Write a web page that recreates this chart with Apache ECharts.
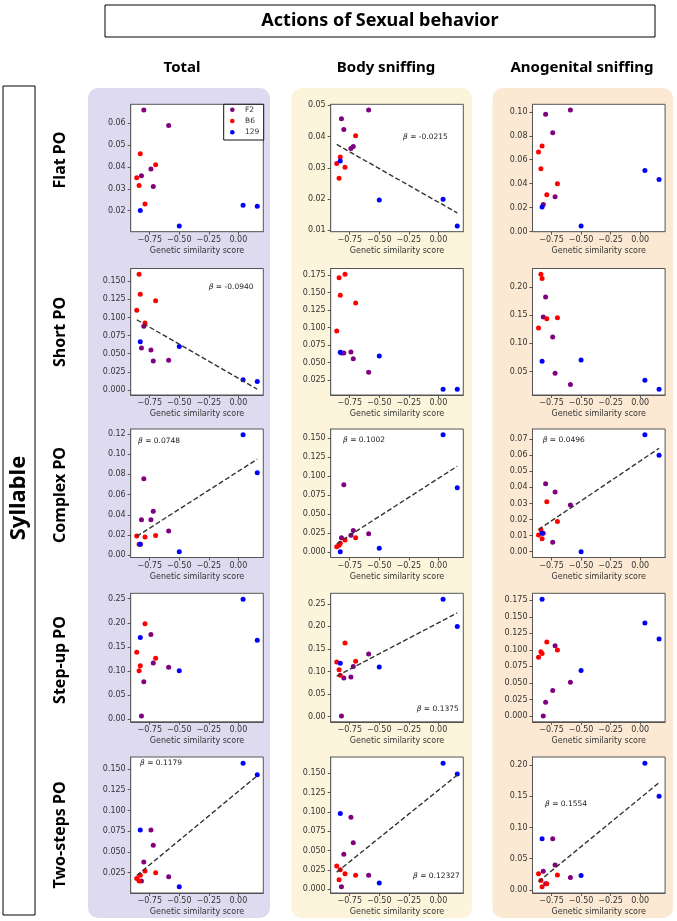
<!DOCTYPE html>
<html>
<head>
<meta charset="utf-8">
<script src="https://cdn.jsdelivr.net/npm/echarts@6/dist/echarts.min.js"></script>
<style>
html,body{margin:0;padding:0;background:#fff}
#chart{width:677px;height:921px}
</style>
</head>
<body>
<div id="chart"></div>
<script>
// mouse order: 5 x F2, 5 x B6, 4 x 129
var mouseGroup = ['F2','F2','F2','F2','F2','B6','B6','B6','B6','B6','129','129','129','129'];
var mouseX = [-0.80,-0.59,-0.82,-0.74,-0.72, -0.83,-0.86,-0.84,-0.70,-0.79, -0.83,-0.50,0.04,0.16];
var groupNames = ['F2','B6','129'];
var groupColors = ['#800080','#ff0000','#0000ff'];
var xTicks = [-0.75,-0.50,-0.25,0];

var colTitles = ['Total','Body sniffing','Anogenital sniffing'];
var rowTitles = ['Flat PO','Short PO','Complex PO','Step-up PO','Two-steps PO'];

// y values, same mouse order
var flatTotal  = [0.066,0.059,0.036,0.039,0.031, 0.046,0.035,0.0315,0.041,0.023, 0.020,0.013,0.0225,0.022];
var flatBody   = [0.0423,0.0485,0.0457,0.0362,0.0368, 0.0335,0.0314,0.0267,0.0403,0.0302, 0.0322,0.0197,0.0199,0.0114];
var flatAnog   = [0.098,0.1015,0.0225,0.0825,0.029, 0.0715,0.0665,0.0524,0.040,0.0307, 0.0205,0.0047,0.051,0.0435];
var shortTotal = [0.088,0.041,0.058,0.055,0.040, 0.132,0.110,0.1596,0.123,0.0925, 0.0666,0.060,0.014,0.0115];
var shortBody  = [0.0635,0.036,0.0635,0.065,0.0553, 0.146,0.095,0.171,0.135,0.176, 0.0647,0.0595,0.0119,0.0119];
var shortAnog  = [0.1824,0.027,0.147,0.1115,0.047, 0.2152,0.1273,0.2229,0.1455,0.1437, 0.068,0.0705,0.0342,0.0184];
var complexTotal = [0.0756,0.024,0.035,0.035,0.0434, 0.011,0.019,0.011,0.0195,0.018, 0.011,0.0036,0.119,0.0815];
var complexBody  = [0.0885,0.0239,0.0186,0.022,0.0283, 0.0115,0.007,0.0088,0.0186,0.0159, 0.0004,0.0049,0.1544,0.0845];
var complexAnog  = [0.0422,0.029,0.0115,0.0058,0.0372, 0.008,0.0104,0.0136,0.0188,0.031, 0.0115,0.000,0.0727,0.0600];
var stepTotal = [0.078,0.108,0.007,0.1757,0.1167, 0.111,0.139,0.1007,0.1264,0.198, 0.1694,0.1007,0.249,0.1639];
var stepBody  = [0.0856,0.139,0.0015,0.0878,0.111, 0.0915,0.121,0.104,0.1228,0.163, 0.1183,0.110,0.2604,0.200];
var stepAnog  = [0.0208,0.0512,0.000,0.0385,0.1063, 0.0946,0.089,0.097,0.0997,0.112, 0.1768,0.0689,0.1407,0.1164];
var twoTotal = [0.038,0.020,0.015,0.0765,0.058, 0.022,0.018,0.015,0.025,0.027, 0.0765,0.008,0.157,0.143];
var twoBody  = [0.045,0.018,0.003,0.093,0.060, 0.025,0.030,0.012,0.018,0.020, 0.098,0.008,0.163,0.149];
var twoAnog  = [0.010,0.020,0.030,0.082,0.040, 0.005,0.026,0.015,0.024,0.010, 0.082,0.023,0.203,0.150];

var panelValues = [flatTotal,flatBody,flatAnog, shortTotal,shortBody,shortAnog,
  complexTotal,complexBody,complexAnog, stepTotal,stepBody,stepAnog, twoTotal,twoBody,twoAnog];

// y tick labels per panel
var yTicks = [
  ['0.02','0.03','0.04','0.05','0.06'], ['0.01','0.02','0.03','0.04','0.05'], ['0.00','0.02','0.04','0.06','0.08','0.10'],
  ['0.000','0.025','0.050','0.075','0.100','0.125','0.150'], ['0.025','0.050','0.075','0.100','0.125','0.150','0.175'], ['0.05','0.10','0.15','0.20'],
  ['0.00','0.02','0.04','0.06','0.08','0.10','0.12'], ['0.000','0.025','0.050','0.075','0.100','0.125','0.150'], ['0.00','0.01','0.02','0.03','0.04','0.05','0.06','0.07'],
  ['0.00','0.05','0.10','0.15','0.20','0.25'], ['0.00','0.05','0.10','0.15','0.20','0.25'], ['0.000','0.025','0.050','0.075','0.100','0.125','0.150','0.175'],
  ['0.000','0.025','0.050','0.075','0.100','0.125','0.150'], ['0.000','0.025','0.050','0.075','0.100','0.125','0.150'], ['0.00','0.05','0.10','0.15','0.20']
];

// regression slope labels and intercepts ('' = no line)
var betaLabels = ['','-0.0215','', '-0.0940','','', '0.0748','0.1002','0.0496', '','0.1375','', '0.1179','0.12327','0.1554'];
var lineIntercepts = [0,0.019,0, 0.016,0,0, 0.083,0.097,0.0564, 0,0.208,0, 0.123,0.128,0.147];
var betaPos = [null,[403,137.5],null, [208.7,286.7],null,null, [138,441],[343,440],[542.7,440], null,[416.7,708.7],null, [140,763],[413,876],[545,804]];

var colLeft = [130.7,330.7,532.5], plotW = 132.6;
var rowTop = [104.3,268.5,429,593.3,757], rowH = [127.4,126.5,128.5,128.5,136];
var FONT = 'DejaVu Sans';
var HFONT = '"Noto Sans", "Liberation Sans", sans-serif';

function fmtMinus(s){ return s.replace('-','\u2212'); }

var xLo = Math.min.apply(null, mouseX), xHi = Math.max.apply(null, mouseX);
var xMin = xLo - 0.05*(xHi-xLo), xMax = xHi + 0.05*(xHi-xLo);

var option = {animation:false, grid:[], xAxis:[], yAxis:[], series:[], graphic:[]};

// column backgrounds
[['#dedbf1',88,270],['#fdf4dc',291.5,472],['#fce9d3',492.5,673]].forEach(function(c){
  option.graphic.push({type:'rect', z:-1, shape:{x:c[1], y:88, width:c[2]-c[1], height:830, r:10}, style:{fill:c[0]}});
});

panelValues.forEach(function(vals, k){
  var row = Math.floor(k/3), col = k%3;
  var beta = betaLabels[k] ? Number(betaLabels[k]) : null;
  var all = vals.slice();
  if (beta !== null) { all.push(lineIntercepts[k]+beta*xLo, lineIntercepts[k]+beta*xHi); }
  var lo = Math.min.apply(null, all), hi = Math.max.apply(null, all);
  var yMin = lo - 0.05*(hi-lo), yMax = hi + 0.05*(hi-lo);
  var ticks = yTicks[k].filter(function(t){ var v = Number(t); return v >= yMin && v <= yMax; });
  var dec = yTicks[k][0].split('.')[1].length;

  option.grid.push({left:colLeft[col], top:rowTop[row], width:plotW, height:rowH[row],
    show:true, backgroundColor:'#fff', borderColor:'#555', borderWidth:1, z:1});
  option.xAxis.push({type:'value', gridIndex:k, min:xMin, max:xMax,
    name:'Genetic similarity score', nameLocation:'middle', nameGap:15,
    nameTextStyle:{fontFamily:FONT, fontSize:8, color:'#333'},
    axisLine:{show:true, onZero:false, lineStyle:{color:'#555'}},
    axisTick:{show:true, length:3, customValues:xTicks, lineStyle:{color:'#555'}},
    axisLabel:{customValues:xTicks, margin:4, fontFamily:FONT, fontSize:8, color:'#333',
      formatter:function(v){ return fmtMinus(v.toFixed(2)); }},
    splitLine:{show:false}});
  option.yAxis.push({type:'value', gridIndex:k, min:yMin, max:yMax,
    axisLine:{show:true, onZero:false, lineStyle:{color:'#555'}},
    axisTick:{show:true, length:3, customValues:ticks.map(Number), lineStyle:{color:'#555'}},
    axisLabel:{customValues:ticks.map(Number), margin:5, fontFamily:FONT, fontSize:8, color:'#333',
      formatter:function(v){ return v.toFixed(dec); }},
    splitLine:{show:false}});

  groupNames.forEach(function(g, gi){
    var pts = [];
    vals.forEach(function(v, i){ if (mouseGroup[i] === g) pts.push([mouseX[i], v]); });
    option.series.push({type:'scatter', name:g, xAxisIndex:k, yAxisIndex:k, data:pts,
      symbolSize:5, itemStyle:{color:groupColors[gi], opacity:1}, silent:true, z:3});
  });
  if (beta !== null) {
    option.series.push({type:'line', xAxisIndex:k, yAxisIndex:k, symbol:'none', silent:true, z:4,
      data:[[xLo, lineIntercepts[k]+beta*xLo],[xHi, lineIntercepts[k]+beta*xHi]],
      lineStyle:{color:'#333', width:1.4, type:[5,2.5]}});
    option.graphic.push({type:'text', z:10, x:betaPos[k][0], y:betaPos[k][1],
      style:{text:'{i|\u03b2} = '+betaLabels[k], rich:{i:{fontStyle:'italic', fontFamily:FONT, fontSize:7.5}},
        fontFamily:FONT, fontSize:7.5, fill:'#222', verticalAlign:'middle'}});
  }
});

// legend in first panel
option.graphic.push({type:'rect', z:10, shape:{x:223.7, y:104.3, width:40, height:35.7},
  style:{fill:'#fff', stroke:'#111', lineWidth:1}});
groupNames.forEach(function(g, gi){
  var y = 109.7 + gi*11.3;
  option.graphic.push({type:'circle', z:11, shape:{cx:232.3, cy:y, r:2.3}, style:{fill:groupColors[gi]}});
  option.graphic.push({type:'text', z:11, x:245, y:y, style:{text:g, fontFamily:FONT, fontSize:7.5, fill:'#333', verticalAlign:'middle'}});
});

// titles and labels
option.graphic.push({type:'rect', z:5, shape:{x:105, y:5, width:550, height:32}, style:{fill:'none', stroke:'#000', lineWidth:1}});
option.graphic.push({type:'text', z:5, x:380, y:21, style:{text:'Actions of Sexual behavior', font:'bold 18px '+HFONT, fill:'#000', align:'center', verticalAlign:'middle'}});
var colCenters = [182,386,582];
colTitles.forEach(function(t, i){
  option.graphic.push({type:'text', z:5, x:colCenters[i], y:68, style:{text:t, font:'bold 15px '+HFONT, fill:'#000', align:'center', verticalAlign:'middle'}});
});
option.graphic.push({type:'rect', z:5, shape:{x:3, y:86, width:32, height:829}, style:{fill:'none', stroke:'#000', lineWidth:1}});
option.graphic.push({type:'text', z:5, x:19, y:498, rotation:Math.PI/2, style:{text:'Syllable', font:'bold 22px '+HFONT, fill:'#000', align:'center', verticalAlign:'middle'}});
var rowCenters = [160,332,495,660,835];
rowTitles.forEach(function(t, i){
  option.graphic.push({type:'text', z:5, x:60, y:rowCenters[i], rotation:Math.PI/2, style:{text:t, font:'bold 16px '+HFONT, fill:'#000', align:'center', verticalAlign:'middle'}});
});

var chart = echarts.init(document.getElementById('chart'), null, {renderer:'canvas'});
chart.setOption(option);
</script>
</body>
</html>
